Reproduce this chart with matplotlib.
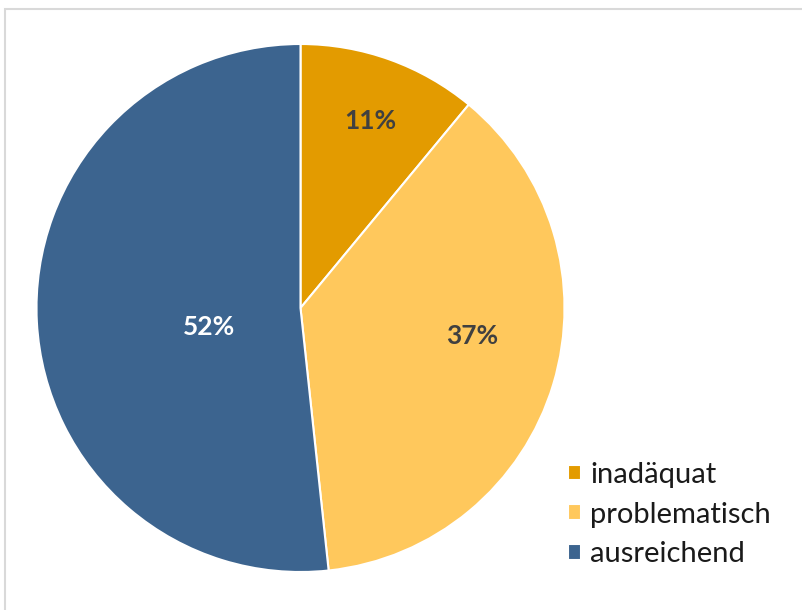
import matplotlib
matplotlib.use('Agg')
import matplotlib.pyplot as plt
from matplotlib.patches import Rectangle

# data
categories = ['inadäquat', 'problematisch', 'ausreichend']
shares = [11.0, 37.3, 51.7]
colors = ['#E39B00', '#FFC85C', '#3C648F']
label_colors = ['#404040', '#404040', '#FFFFFF']

# label placement (axes data units, pie radius = 1)
label_pos = [(0.265, 0.708), (0.652, -0.106), (-0.348, -0.072)]

plt.rcParams['font.family'] = ['Lato', 'DejaVu Sans']

W, H = 803, 610
fig = plt.figure(figsize=(W / 100, H / 100), dpi=100)

cx, cy, r = 300.5, 308, 264
ax = fig.add_axes([(cx - r) / W, (H - cy - r) / H, 2 * r / W, 2 * r / H])

wedges, texts, autotexts = ax.pie(
    shares, colors=colors, startangle=90, counterclock=False,
    radius=1, autopct='%.0f%%',
    textprops=dict(fontsize=19, fontweight='bold'),
    wedgeprops=dict(edgecolor='white', linewidth=1.5))
ax.set_xlim(-1, 1)
ax.set_ylim(-1, 1)
ax.set_aspect('equal')
ax.axis('off')

for t, pos, c in zip(autotexts, label_pos, label_colors):
    t.set_position(pos)
    t.set_color(c)

leg = fig.legend(wedges, categories, loc='upper left',
                 bbox_to_anchor=(568 / W, 1 - 462 / H),
                 frameon=False, fontsize=21, handlelength=0.45,
                 handleheight=0.45, handletextpad=0.3, labelspacing=0.47,
                 borderaxespad=0, borderpad=0)
for t in leg.get_texts():
    t.set_color('#1a1a1a')

fig.add_artist(Rectangle((5.5 / W, -0.1), 1.2, 0.1 + (H - 8.5) / H,
                         transform=fig.transFigure, fill=False,
                         edgecolor='#d9d9d9', linewidth=1.5))

fig.savefig('out.png', dpi=100)
